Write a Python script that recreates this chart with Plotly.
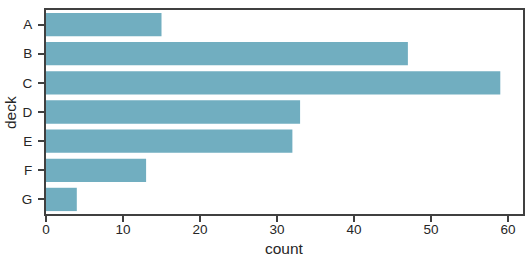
import plotly.graph_objects as go

decks = ["A", "B", "C", "D", "E", "F", "G"]
counts = [15, 47, 59, 33, 32, 13, 4]
x_ticks = [0, 10, 20, 30, 40, 50, 60]

fig = go.Figure(go.Bar(
    x=counts, y=decks, orientation="h",
    marker=dict(color="#71AEC0", line=dict(width=0)),
    width=0.8,
))

FONT = "Liberation Sans, Arial"
axis_common = dict(
    showline=True, linecolor="#404040", linewidth=2, mirror=True,
    ticks="outside", ticklen=6, tickwidth=2, tickcolor="#404040",
    showgrid=False, zeroline=False, automargin=False,
    tickfont=dict(family=FONT, size=13.5, color="#262626"),
)

W, H = 532, 258
l, r, t, b = 46, 9, 10, 44
pw, ph = W - l - r, H - t - b

fig.update_layout(
    width=W, height=H,
    margin=dict(l=l, r=r, t=t, b=b),
    plot_bgcolor="white", paper_bgcolor="white",
    showlegend=False,
    bargap=0.2,
    xaxis=dict(range=[0, 61.95], tickvals=x_ticks, ticklabelstandoff=-4, **axis_common),
    yaxis=dict(range=[6.5, -0.5], categoryorder="array", categoryarray=decks,
               ticklabelstandoff=3, **axis_common),
    annotations=[
        dict(text="count", x=(284 - l) / pw, y=(H - 248 - b) / ph,
             xref="paper", yref="paper", xanchor="center", yanchor="middle",
             showarrow=False, font=dict(family=FONT, size=15.5, color="#262626")),
        dict(text="deck", x=(10 - l) / pw, y=(H - 113 - b) / ph, textangle=-90,
             xref="paper", yref="paper", xanchor="center", yanchor="middle",
             showarrow=False, font=dict(family=FONT, size=15.5, color="#262626")),
    ],
)

fig.write_html("out.html")
